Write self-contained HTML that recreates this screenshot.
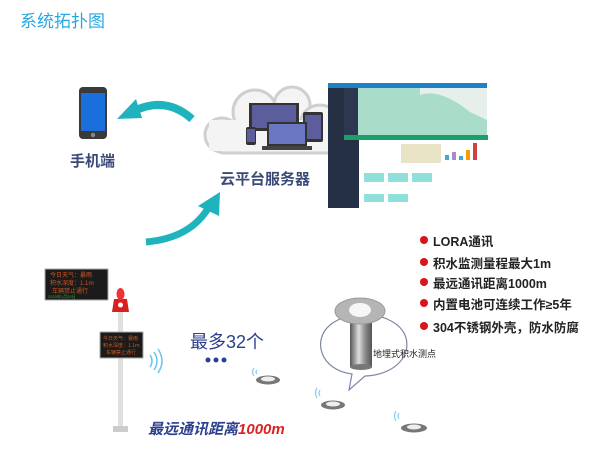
<!DOCTYPE html>
<html><head><meta charset="utf-8"><style>
body{margin:0;width:600px;height:464px;background:#fff;position:relative;overflow:hidden;font-family:"Liberation Sans","Noto Sans CJK SC",sans-serif}
.a{position:absolute}
.t{position:absolute;white-space:nowrap}
.b{position:absolute;left:420px;width:8px;height:8px;border-radius:50%;background:#d8141c}
.bt{position:absolute;left:433px;font-size:12.5px;color:#222;font-weight:bold;white-space:nowrap}
</style></head><body>
<div class="t" style="left:20px;top:7px;font-size:17px;color:#29a7e1">系统拓扑图</div>

<svg class="a" style="left:0;top:0" width="600" height="464">
 <!-- arrows -->
 <path d="M192,119 Q165,95 132,112" stroke="#1fb3bd" stroke-width="8" fill="none"/>
 <polygon points="117,119 136,99 142,118" fill="#1fb3bd"/>
 <path d="M146,242 Q192,238 210,205" stroke="#1fb3bd" stroke-width="7" fill="none"/>
 <polygon points="220,192 198,206 219,216" fill="#1fb3bd"/>
 <!-- phone -->
 <rect x="79" y="87" width="28" height="52" rx="4" fill="#3a3a3a"/>
 <rect x="81" y="93" width="24" height="38" fill="#1a6fdc"/>
 <circle cx="93" cy="135" r="2.2" fill="#888"/>
 <!-- cloud -->
 <g fill="#f4f4f4" stroke="#cfcfcf" stroke-width="3">
  <circle cx="222" cy="135" r="17"/><circle cx="255" cy="112" r="22"/><circle cx="292" cy="105" r="18"/><circle cx="320" cy="125" r="20"/><rect x="212" y="125" width="128" height="28" rx="12"/>
 </g>
 <rect x="209" y="120" width="133" height="31" fill="#f4f4f4"/>
 <rect x="249" y="103" width="50" height="28" fill="#333"/><rect x="252" y="105" width="44" height="23" fill="#5b5d9c"/>
 <rect x="303" y="112" width="20" height="30" rx="2" fill="#333"/><rect x="305" y="115" width="16" height="24" fill="#5b5d9c"/>
 <rect x="267" y="122" width="40" height="24" fill="#333"/><rect x="269" y="124" width="36" height="20" fill="#6a78c4"/>
 <rect x="262" y="146" width="50" height="4" fill="#444"/>
 <rect x="246" y="127" width="10" height="18" rx="2" fill="#333"/><rect x="247" y="129" width="8" height="13" fill="#5b5d9c"/>
 <!-- screenshot -->
 <rect x="328" y="83" width="159" height="52" fill="#a9dcc9"/>
 <rect x="328" y="83" width="159" height="5" fill="#1d82c4"/>
 <rect x="328" y="88" width="16" height="120" fill="#253045"/>
 <rect x="344" y="88" width="14" height="47" fill="#2c3850"/>
 <path d="M420,95 Q440,88 470,112 L487,120 L487,88 L420,88 Z" fill="#e6efe9"/>
 <rect x="344" y="135" width="144" height="73" fill="#fff"/>
 <rect x="344" y="135" width="144" height="5" fill="#1e9e6a"/>
 <rect x="344" y="140" width="15" height="68" fill="#253045"/>
 <rect x="401" y="144" width="40" height="19" fill="#e8e3c4"/>
 <g fill="#8fe0da"><rect x="364" y="173" width="20" height="9"/><rect x="388" y="173" width="20" height="9"/><rect x="412" y="173" width="20" height="9"/><rect x="364" y="194" width="20" height="8"/><rect x="388" y="194" width="20" height="8"/></g>
 <g><rect x="445" y="155" width="4" height="5" fill="#4ac"/><rect x="452" y="152" width="4" height="8" fill="#a8c"/><rect x="459" y="156" width="4" height="4" fill="#4ac"/><rect x="466" y="150" width="4" height="10" fill="#f90"/><rect x="473" y="143" width="4" height="17" fill="#c44"/></g>
 <!-- pole & signs -->
 <rect x="118" y="310" width="5" height="122" fill="#e0e0e0"/>
 <rect x="113" y="426" width="15" height="6" fill="#ccc"/>
 <rect x="45" y="269" width="63" height="31" fill="#1b1b1b" stroke="#aaa"/>
 <g fill="#c52" font-size="6" font-family="Noto Sans CJK SC"><text x="50" y="277">今日天气：暴雨</text><text x="50" y="285">积水深度：1.1m</text><text x="52" y="293">车辆禁止通行</text></g>
 <text x="48" y="298" fill="#3a3" font-size="4">2020年1月20日</text>
 <rect x="100" y="332" width="43" height="26" fill="#1b1b1b" stroke="#aaa"/>
 <g fill="#c52" font-size="5" font-family="Noto Sans CJK SC"><text x="103" y="340">今日天气：暴雨</text><text x="103" y="347">积水深度：1.1m</text><text x="106" y="354">车辆禁止通行</text></g>
 <path d="M114,299 L127,299 L129,312 L112,312 Z" fill="#d92020"/>
 <ellipse cx="120.5" cy="294" rx="4" ry="6" fill="#e33"/>
 <circle cx="120.5" cy="305" r="2.5" fill="#fff"/>
 <g stroke="#6ac4ec" stroke-width="1.5" fill="none"><path d="M150,355 q4,6 0,12"/><path d="M154,352 q6,9 0,18"/><path d="M158,349 q8,12 0,24"/></g>
 <g fill="#2a3f8f"><circle cx="208" cy="360" r="2.5"/><circle cx="216" cy="360" r="2.5"/><circle cx="224" cy="360" r="2.5"/></g>
 <!-- balloon -->
 <path d="M349,390 L352,374 C320,370 312,340 330,325 C350,308 395,312 405,335 C413,355 395,375 365,376 Z" fill="#fff" stroke="#7e86a8" stroke-width="1.2"/>
 <defs><linearGradient id="g" x1="0" x2="1"><stop offset="0" stop-color="#555"/><stop offset=".4" stop-color="#ddd"/><stop offset=".7" stop-color="#888"/><stop offset="1" stop-color="#555"/></linearGradient></defs>
 <rect x="350" y="312" width="22" height="55" fill="url(#g)"/>
 <ellipse cx="361" cy="367" rx="11" ry="3" fill="#777"/>
 <ellipse cx="360" cy="311" rx="25" ry="13" fill="#b5b5b5" stroke="#999"/>
 <ellipse cx="360" cy="310" rx="11" ry="7" fill="#f6f6f6"/>
 <!-- sensors -->
 <g><ellipse cx="268" cy="380" rx="12" ry="4.5" fill="#777"/><ellipse cx="268" cy="379" rx="7" ry="2.5" fill="#eee"/>
 <ellipse cx="333" cy="405" rx="12" ry="4.5" fill="#777"/><ellipse cx="333" cy="404" rx="7" ry="2.5" fill="#eee"/>
 <ellipse cx="414" cy="428" rx="13" ry="4.5" fill="#777"/><ellipse cx="414" cy="427" rx="7" ry="2.5" fill="#eee"/></g>
 <g stroke="#8cd0f0" stroke-width="1.3" fill="none"><path d="M254,376 q-3,-4 0,-8 M257,374 q-2,-2 0,-4"/><path d="M317,398 q-3,-5 0,-10 M320,396 q-2,-3 0,-6"/><path d="M396,421 q-3,-5 0,-10 M399,419 q-2,-3 0,-6"/></g>
</svg>

<div class="t" style="left:70px;top:150px;font-size:15px;font-weight:bold;color:#3a4a78">手机端</div>
<div class="t" style="left:220px;top:168px;font-size:15px;font-weight:bold;color:#3a4a78">云平台服务器</div>
<div class="t" style="left:373px;top:347px;font-size:9px;color:#222">地埋式积水测点</div>
<div class="t" style="left:190px;top:328px;font-size:18px;color:#2c3f8c">最多32个</div>
<div class="t" style="left:148px;top:418px;font-size:15px;font-style:italic;color:#2c3f8c;font-weight:bold">最远通讯距离<span style="color:#d22">1000m</span></div>

<div class="b" style="top:236px"></div><div class="bt" style="top:231px">LORA通讯</div>
<div class="b" style="top:258px"></div><div class="bt" style="top:253px">积水监测量程最大1m</div>
<div class="b" style="top:278px"></div><div class="bt" style="top:273px">最远通讯距离1000m</div>
<div class="b" style="top:299px"></div><div class="bt" style="top:294px">内置电池可连续工作≥5年</div>
<div class="b" style="top:322px"></div><div class="bt" style="top:317px">304不锈钢外壳，防水防腐</div>
</body></html>
